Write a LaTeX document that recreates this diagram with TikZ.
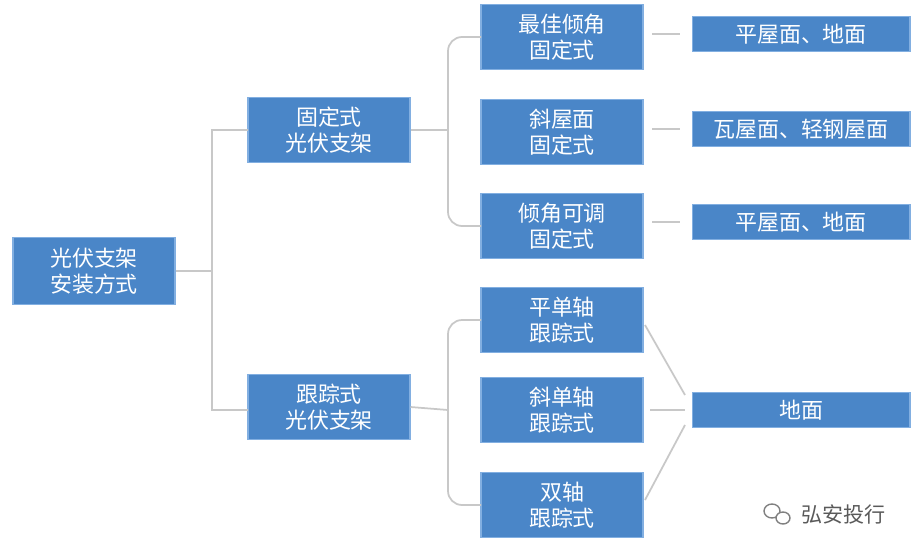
\documentclass[tikz,border=0pt]{standalone}
\usepackage{fontspec}
\setmainfont{Noto Sans CJK SC}
\begin{document}
\begin{tikzpicture}[x=0.02cm,y=-0.02cm,
 bx/.style={draw={rgb,255:red,130;green,175;blue,225},fill={rgb,255:red,74;green,134;blue,200},text=white,font=\fontsize{12.5}{15}\selectfont,align=center,inner sep=0pt,line width=0.6pt},
 ln/.style={draw={rgb,255:red,200;green,200;blue,200},line width=1pt}]
\useasboundingbox (0,0) rectangle (923,554);
\node[bx,minimum width=3.24cm,minimum height=1.34cm] (root) at (94,271) {光伏支架\\安装方式};
\node[bx,minimum width=3.24cm,minimum height=1.3cm] (fix) at (329,130) {固定式\\光伏支架};
\node[bx,minimum width=3.24cm,minimum height=1.3cm] (trk) at (329,407) {跟踪式\\光伏支架};
\foreach \n/\y/\t in {a/37/最佳倾角\\固定式, b/132/斜屋面\\固定式, c/226/倾角可调\\固定式, d/320/平单轴\\跟踪式, e/410/斜单轴\\跟踪式, f/505/双轴\\跟踪式}
  \node[bx,minimum width=3.24cm,minimum height=1.3cm] (\n) at (562,\y) {\t};
\foreach \n/\y/\t in {pa/34/平屋面、地面, pb/129/瓦屋面、轻钢屋面, pc/222/平屋面、地面, pd/410/地面}
  \node[bx,minimum width=4.36cm,minimum height=0.7cm] (\n) at (801,\y) {\t};
% root bracket
\draw[ln] (root.east) -- (212,271);
\draw[ln] (248,130) -- (212,130) -- (212,410) -- (248,410);
% fixed bracket
\draw[ln] (fix.east) -- (448,130);
\draw[ln,rounded corners=8pt] (481,37) -- (448,37) -- (448,226) -- (481,226);
% tracking bracket
\draw[ln] (trk.east) -- (448,410);
\draw[ln,rounded corners=8pt] (481,320) -- (448,320) -- (448,505) -- (481,505);
% to col4
\draw[ln] (652,34) -- (680,34);
\draw[ln] (652,129) -- (680,129);
\draw[ln] (652,222) -- (680,222);
\draw[ln] (645,325) -- (685,395);
\draw[ln] (650,410) -- (685,410);
\draw[ln] (645,500) -- (685,425);
% watermark
\node[text={rgb,255:red,90;green,90;blue,90},font=\fontsize{12}{14}\selectfont,anchor=west] (wm) at (795,514) {弘安投行};
\draw[gray,line width=0.8pt] (772,511) ellipse (8 and 7);
\draw[gray,line width=0.8pt,fill=white] (783,518) ellipse (7 and 6);
\end{tikzpicture}
\end{document}
